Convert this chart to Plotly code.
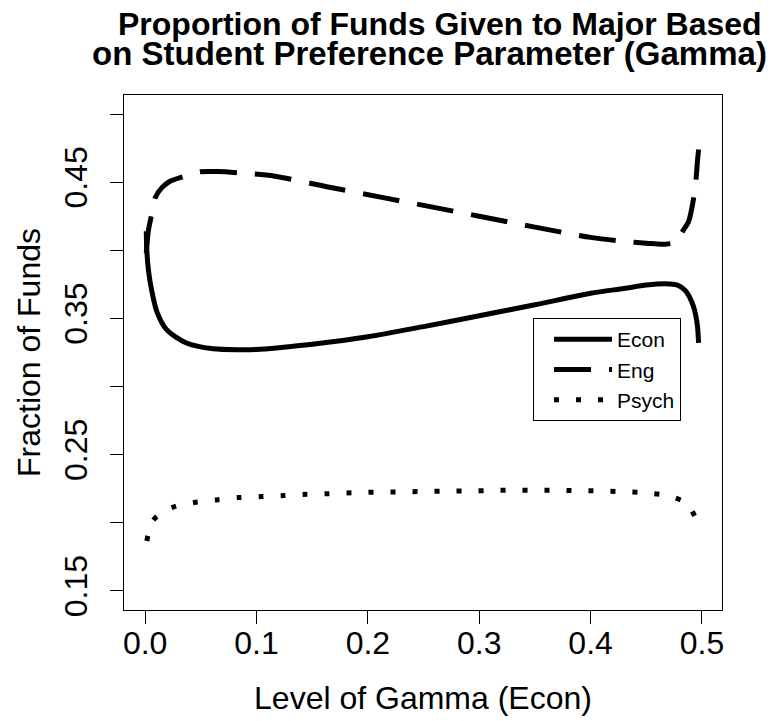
import plotly.graph_objects as go

# ---- data ----
ECON_X = [0.001, 0.0015, 0.003, 0.006, 0.0105, 0.019, 0.037, 0.061, 0.085, 0.10, 0.12,
          0.15, 0.20, 0.25, 0.30, 0.35, 0.40, 0.43, 0.45, 0.467, 0.478, 0.485, 0.489,
          0.4924, 0.4945, 0.496, 0.497]
ECON_Y = [0.414, 0.400, 0.385, 0.370, 0.355, 0.342, 0.332, 0.3277, 0.327, 0.3272, 0.3285,
          0.331, 0.3365, 0.344, 0.352, 0.360, 0.3685, 0.372, 0.3745, 0.3755, 0.3745, 0.3705,
          0.3655, 0.3587, 0.352, 0.344, 0.332]

ENG_X = [0.001, 0.003, 0.0063, 0.009, 0.015, 0.022, 0.033, 0.049, 0.065, 0.083, 0.1164,
         0.1656, 0.2149, 0.264, 0.30, 0.35, 0.40, 0.43, 0.45, 0.467, 0.478, 0.4817, 0.4879,
         0.4915, 0.4942, 0.496, 0.497]
ENG_Y = [0.398, 0.415, 0.428, 0.4385, 0.446, 0.4505, 0.4537, 0.4576, 0.4578, 0.4569, 0.4544,
         0.4463, 0.4385, 0.4308, 0.425, 0.417, 0.4095, 0.4065, 0.4052, 0.4045, 0.4065, 0.4128,
         0.4209, 0.4334, 0.448, 0.466, 0.474]

PSYCH_X = [0.0015, 0.0074, 0.0244, 0.0441, 0.0641, 0.0841, 0.1045, 0.1245, 0.1448, 0.1647,
           0.1851, 0.2053, 0.2256, 0.2459, 0.2662, 0.2865, 0.3064, 0.3265, 0.3467, 0.3670,
           0.3874, 0.4073, 0.4277, 0.4479, 0.4680, 0.4867, 0.4960]
PSYCH_Y = [0.1867, 0.2021, 0.2112, 0.2149, 0.2168, 0.2185, 0.2193, 0.2200, 0.2210, 0.2214,
           0.2220, 0.2225, 0.2227, 0.2229, 0.2232, 0.2234, 0.2236, 0.2239, 0.2239, 0.2239,
           0.2236, 0.2234, 0.2229, 0.2220, 0.2200, 0.2141, 0.1999]

X_TICKS = [0.0, 0.1, 0.2, 0.3, 0.4, 0.5]
X_TICK_TEXT = ["0.0", "0.1", "0.2", "0.3", "0.4", "0.5"]
Y_TICKS = [0.15, 0.20, 0.25, 0.30, 0.35, 0.40, 0.45, 0.50]
Y_TICK_TEXT = ["0.15", "", "0.25", "", "0.35", "", "0.45", ""]

TITLE_1 = "Proportion of Funds Given to Major Based"
TITLE_2 = "on Student Preference Parameter (Gamma)"
X_TITLE = "Level of Gamma (Econ)"
Y_TITLE = "Fraction of Funds"

FONT = "Liberation Sans, Arial, Helvetica, sans-serif"

fig = go.Figure()
fig.add_trace(go.Scatter(x=ECON_X, y=ECON_Y, mode="lines", name="Econ",
                         line=dict(color="black", width=5, shape="spline", smoothing=0.8)))
fig.add_trace(go.Scatter(x=ENG_X, y=ENG_Y, mode="lines", name="Eng",
                         line=dict(color="black", width=5, dash="37px,18px",
                                   shape="spline", smoothing=0.8)))
fig.add_trace(go.Scatter(x=PSYCH_X, y=PSYCH_Y, mode="lines", name="Psych",
                         line=dict(color="black", width=5, dash="5px,17px",
                                   shape="spline", smoothing=0.8)))

axis_common = dict(showline=True, linecolor="black", linewidth=1, mirror=True,
                   ticks="outside", ticklen=13, tickwidth=1, tickcolor="black",
                   showgrid=False, zeroline=False,
                   tickfont=dict(family=FONT, size=32, color="black"))

fig.update_xaxes(range=[-0.019, 0.518], tickvals=X_TICKS, ticktext=X_TICK_TEXT,
                 ticklabelstandoff=-8,
                 title=dict(text=X_TITLE, font=dict(family=FONT, size=32, color="black"),
                            standoff=26),
                 **axis_common)
fig.update_yaxes(range=[0.136, 0.514], tickvals=Y_TICKS, ticktext=Y_TICK_TEXT,
                 tickangle=-90, ticklabelstandoff=10,
                 title=dict(text=Y_TITLE, font=dict(family=FONT, size=32, color="black"),
                            standoff=8),
                 **axis_common)

fig.add_annotation(text="<b>" + TITLE_1 + "</b>", xref="paper", yref="paper",
                   x=0.528, y=(610 - 24) / 515, xanchor="center", yanchor="middle",
                   showarrow=False, font=dict(family=FONT, size=32, color="black"))
fig.add_annotation(text="<b>" + TITLE_2 + "</b>", xref="paper", yref="paper",
                   x=0.5117, y=(610 - 54) / 515, xanchor="center", yanchor="middle",
                   showarrow=False, font=dict(family=FONT, size=33, color="black"))

fig.update_layout(
    width=773, height=721,
    margin=dict(l=124, r=51, t=95, b=111),
    paper_bgcolor="white", plot_bgcolor="white",
    showlegend=True,
    legend=dict(x=0.684, y=0.567, xanchor="left", yanchor="top",
                bordercolor="black", borderwidth=1, bgcolor="white",
                font=dict(family=FONT, size=21, color="black"),
                tracegroupgap=0, itemwidth=58, indentation=15),
)

fig.write_html("out.html")
